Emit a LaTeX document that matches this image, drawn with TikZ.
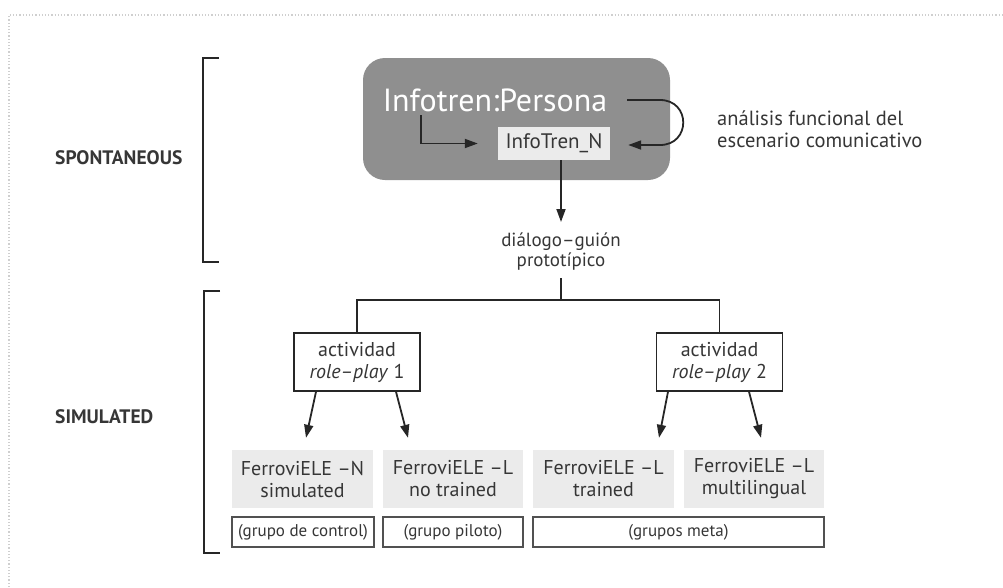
\documentclass[tikz,border=0pt]{standalone}
\usepackage{fontspec}
\setmainfont{PT Sans}
\usetikzlibrary{arrows.meta,calc}
\definecolor{ink}{HTML}{262626}
\definecolor{txt}{HTML}{363636}
\definecolor{boxgray}{HTML}{8F8F8F}
\definecolor{lightg}{HTML}{EBEBEB}
\definecolor{dotg}{HTML}{CFCFCF}
\tikzset{
  conn/.style={draw=ink, line width=1.8pt},
  arr/.style={conn, -{Triangle[length=13pt,width=9pt]}},
  brk/.style={draw=ink, line width=1.8pt},
  side/.style={text=txt, font=\fontsize{19.5}{21}\selectfont\bfseries, anchor=west, inner sep=0pt},
  actbox/.style={draw=ink, line width=1.5pt, fill=white, minimum width=126pt, minimum height=58pt, align=center, text=txt, font=\fontsize{20}{22}\selectfont, inner sep=0pt},
  grp/.style={fill=lightg, minimum height=58pt, align=center, text=txt, font=\fontsize{20}{22}\selectfont, inner sep=0pt},
  outl/.style={draw=ink!80, line width=1.3pt, minimum height=30pt, text=txt, font=\fontsize{17}{19}\selectfont, inner sep=0pt},
  note/.style={text=txt, font=\fontsize{20.5}{22}\selectfont, align=left, inner sep=0pt}
}
\begin{document}
\begin{tikzpicture}[x=1pt,y=-1pt]
\useasboundingbox (0,0) rectangle (1003,587);
% dotted frame
\draw[dotg, dotted, line width=1.2pt] (9,587) -- (9,15) -- (1003,15);
% side labels and brackets
\node[side] (sp) at (55,157.5) {SPONTANEOUS};
\node[side] (si) at (55,417) {SIMULATED};
\draw[brk] (219,58) -- (203,58) -- (203,262) -- (219,262);
\draw[brk] (220,291) -- (204,291) -- (204,553) -- (220,553);
% persona box
\node[fill=boxgray, rounded corners=22pt, minimum width=307pt, minimum height=122pt, inner sep=0pt] (pers) at (516.5,119) {};
\node[text=white, font=\fontsize{32}{34}\selectfont, inner sep=0pt] (ip) at (495,100) {Infotren:Persona};
\node[fill=lightg, minimum width=112pt, minimum height=33pt, text=txt, font=\fontsize{21}{23}\selectfont, inner sep=0pt] (itn) at (554,143.5) {InfoTren\_N};
\coordinate (l0) at (421,115);
\draw[arr, shorten >=20pt] (l0) |- (itn.west);
\coordinate (r0) at (627,100);
\coordinate (r1) at (627,145);
\draw[arr] (r0) -- (660,100) .. controls (691,100) and (691,145) .. (660,145) -- ([xshift=18pt]itn.east |- r1);
\node[note] (an) at (717,129) [anchor=west] {análisis funcional del\\escenario comunicativo};
% dialogue
\node[text=txt, font=\fontsize{19}{20}\selectfont, align=center, inner sep=0pt] (dlg) at (561,252) {diálogo–guión\\prototípico};
\draw[arr] (itn.south -| dlg.north) -- (561,222);
\coordinate (j) at (561,300);
\draw[conn] (561,278) -- (j);
% activity boxes
\node[actbox] (a1) at (357,362) {actividad\\\textit{role–play} 1};
\node[actbox] (a2) at (719.5,362) {actividad\\\textit{role–play} 2};
\draw[conn] (a1.north) |- (j) -| (a2.north);
% groups
\node[grp, minimum width=141pt] (g1) at (302.5,479) {FerroviELE –N\\simulated};
\node[grp, minimum width=140pt] (g2) at (453,479) {FerroviELE –L\\no trained};
\node[grp, minimum width=141pt] (g3) at (603.5,479) {FerroviELE –L\\trained};
\node[grp, minimum width=140pt] (g4) at (754,479) {FerroviELE –L\\multilingual};
\draw[arr] ([xshift=-41pt]a1.south) -- ([xshift=3.5pt,yshift=12pt]g1.north);
\draw[arr] ([xshift=39pt]a1.south) -- ([xshift=-45pt,yshift=12pt]g2.north);
\draw[arr] ([xshift=-51.5pt]a2.south) -- ([xshift=55.5pt,yshift=12pt]g3.north);
\draw[arr] ([xshift=29.5pt]a2.south) -- ([xshift=7pt,yshift=12pt]g4.north);
% outline boxes
\node[outl, minimum width=142pt] (b1) at (303,532) {(grupo de control)};
\node[outl, minimum width=140pt] (b2) at (453,532) {(grupo piloto)};
\node[outl, minimum width=291pt] (b3) at (678.5,532) {(grupos meta)};
\end{tikzpicture}
\end{document}
